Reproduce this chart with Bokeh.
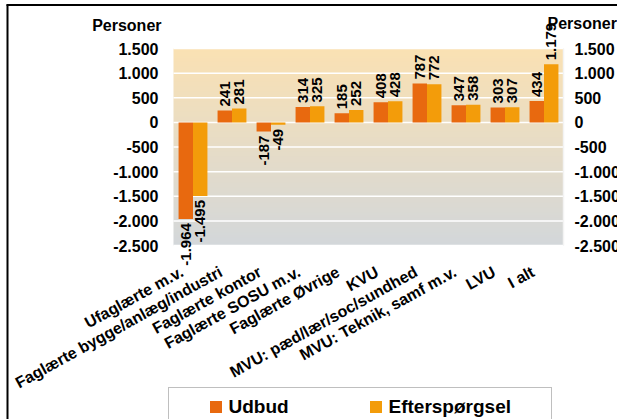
import numpy as np
from bokeh.plotting import figure
from bokeh.models import (ColumnDataSource, Range1d, FixedTicker, LabelSet, Label,
                          Legend, LegendItem, LinearAxis)
from bokeh.core.properties import value
from bokeh.embed import file_html
from bokeh.resources import INLINE

# ---------------- data ----------------
categories = [
    "Ufaglærte m.v.",
    "Faglærte bygge/anlæg/industri",
    "Faglærte kontor",
    "Faglærte SOSU m.v.",
    "Faglærte Øvrige",
    "KVU",
    "MVU: pæd/lær/soc/sundhed",
    "MVU: Teknik, samf m.v.",
    "LVU",
    "I alt",
]
udbud = [-1964, 241, -187, 314, 185, 408, 787, 347, 303, 434]
efterspoergsel = [-1495, 281, -49, 325, 252, 428, 772, 358, 307, 1179]
series_names = ["Udbud", "Efterspørgsel"]
y_ticks = [-2500, -2000, -1500, -1000, -500, 0, 500, 1000, 1500]
y_tick_labels = ["-2.500", "-2.000", "-1.500", "-1.000", "-500", "0", "500", "1.000", "1.500"]
unit_label = "Personer"

# ---------------- layout / style ----------------
W, H = 617, 419
PLOT_LEFT, PLOT_RIGHT, PLOT_TOP, PLOT_BOTTOM = 173, 563, 48, 245
FONT = "Liberation Sans"
C_UDBUD = "#E8690F"
C_EFT = "#F39C0A"
BAR_W = 0.37
LABEL_SHIFT = -0.28
LABEL_ANGLE = np.deg2rad(29)

n = len(categories)
y_lo, y_hi = y_ticks[0], y_ticks[-1]
cat_px = (PLOT_RIGHT - PLOT_LEFT) / n
ppu = (PLOT_BOTTOM - PLOT_TOP) / (y_hi - y_lo)


def px2x(px):
    return (px - PLOT_LEFT) / cat_px - 0.5


def px2y(py):
    return y_hi - (py - PLOT_TOP) / ppu


def fmt(v):
    return f"{v:,}".replace(",", ".")


p = figure(width=W, height=H,
           x_range=Range1d(px2x(0), px2x(W)),
           y_range=Range1d(px2y(H), px2y(0)),
           output_backend="svg", toolbar_location=None, min_border=0,
           border_fill_color="white", background_fill_color="white",
           outline_line_color=None)

# background gradient of the plot area (light orange top -> light grey bottom)
ng = 400
t = np.linspace(0.0, 1.0, ng)[:, None]
top_c = np.array([250, 225, 179])
bot_c = np.array([211, 215, 218])
rgb = (bot_c + (top_c - bot_c) * t).round().astype(np.uint8)
img = np.empty((ng, 1), dtype=np.uint32)
view = img.view(dtype=np.uint8).reshape((ng, 1, 4))
view[:, :, 0:3] = rgb[:, None, :]
view[:, :, 3] = 255
p.image_rgba(image=[img], x=-0.5, y=y_lo, dw=n, dh=y_hi - y_lo, level="image")

# horizontal grid lines limited to the plot area
p.segment(x0=[-0.5] * len(y_ticks), x1=[n - 0.5] * len(y_ticks), y0=y_ticks, y1=y_ticks,
          line_color="white", line_width=1.5, level="underlay")
p.segment(x0=[n - 0.5], x1=[n - 0.5], y0=[y_lo], y1=[y_hi],
          line_color="#f3f3f3", line_width=1.5, level="underlay")

# bars
xs = list(range(n))
src = ColumnDataSource(dict(
    xu=[x - BAR_W / 2 for x in xs], xe=[x + BAR_W / 2 for x in xs],
    udbud=udbud, eft=efterspoergsel))
r1 = p.vbar(x="xu", top="udbud", bottom=0, width=BAR_W, source=src,
            fill_color=C_UDBUD, line_color=None)
r2 = p.vbar(x="xe", top="eft", bottom=0, width=BAR_W, source=src,
            fill_color=C_EFT, line_color=None)

# value labels
for vals, off in ((udbud, -BAR_W / 2), (efterspoergsel, BAR_W / 2)):
    for positive in (True, False):
        idx = [i for i, v in enumerate(vals) if (v >= 0) == positive]
        if not idx:
            continue
        lsrc = ColumnDataSource(dict(
            x=[xs[i] + off for i in idx],
            y=[vals[i] for i in idx],
            text=[fmt(vals[i]) for i in idx]))
        p.add_layout(LabelSet(
            x="x", y="y", text="text", source=lsrc,
            angle=np.pi / 2, text_align="left" if positive else "right",
            text_baseline="middle", y_offset=4 if positive else -4,
            text_font=value(FONT), text_font_style="bold", text_font_size="15px",
            text_color="black"))

# axes
p.xgrid.visible = False
p.ygrid.visible = False


def style_axis(ax, size="16px"):
    ax.axis_line_color = None
    ax.major_tick_line_color = None
    ax.minor_tick_line_color = None
    ax.major_tick_out = 0
    ax.major_tick_in = 0
    ax.major_label_text_font = FONT
    ax.major_label_text_font_style = "bold"
    ax.major_label_text_font_size = size
    ax.major_label_text_color = "black"


yl = p.yaxis[0]
yl.fixed_location = -0.5
yl.ticker = FixedTicker(ticks=y_ticks)
yl.major_label_overrides = {tk: lab for tk, lab in zip(y_ticks, y_tick_labels)}
style_axis(yl)
yl.major_label_standoff = 15

yr = LinearAxis(fixed_location=n - 0.5, ticker=FixedTicker(ticks=y_ticks),
                major_label_overrides={tk: lab for tk, lab in zip(y_ticks, y_tick_labels)})
style_axis(yr)
yr.major_label_standoff = 11
p.add_layout(yr, "right")

cat_ticks = [x + LABEL_SHIFT for x in xs]
xa = p.xaxis[0]
xa.fixed_location = y_lo
xa.ticker = FixedTicker(ticks=cat_ticks)
xa.major_label_overrides = {tk: c for tk, c in zip(cat_ticks, categories)}
style_axis(xa)
xa.major_label_orientation = LABEL_ANGLE
xa.major_label_standoff = 25

# unit labels above both value scales
for xx, xo, yo, al in ((-0.5, -12, 23, "right"), (n - 0.5, -16, 25, "left")):
    p.add_layout(Label(x=xx, y=y_hi, text=unit_label, x_offset=xo, y_offset=yo,
                       text_align=al, text_baseline="middle",
                       text_font=FONT, text_font_style="bold",
                       text_font_size="16px", text_color="black"))

# frame lines of the surrounding document (top and left)
p.segment(x0=[px2x(6)], x1=[px2x(W)], y0=[px2y(4.5)], y1=[px2y(4.5)],
          line_color="black", line_width=2)
p.segment(x0=[px2x(7)], x1=[px2x(7)], y0=[px2y(4)], y1=[px2y(H)],
          line_color="black", line_width=2)

# legend: framed box + items
dummy = p.scatter(x=[], y=[], fill_alpha=0, line_alpha=0)
box = Legend(items=[LegendItem(label=" ", renderers=[dummy])],
             location=(168, -10), orientation="horizontal",
             glyph_width=1, glyph_height=1, label_width=381, label_height=40,
             label_standoff=0, padding=0, margin=0, spacing=0,
             border_line_color="#808080", border_line_width=1.5,
             background_fill_color="white", background_fill_alpha=1.0)
leg = Legend(items=[LegendItem(label=series_names[0], renderers=[r1]),
                    LegendItem(label=series_names[1], renderers=[r2])],
             location=(207.5, 1.5), orientation="horizontal",
             glyph_width=15, glyph_height=15, label_standoff=6,
             label_width=128, spacing=11, padding=5, margin=0,
             border_line_color=None, background_fill_alpha=0.0,
             label_text_font=FONT, label_text_font_style="bold",
             label_text_font_size="19px", label_text_color="black")
p.add_layout(box)
p.add_layout(leg)

open("out.html", "w").write(file_html(p, INLINE))
